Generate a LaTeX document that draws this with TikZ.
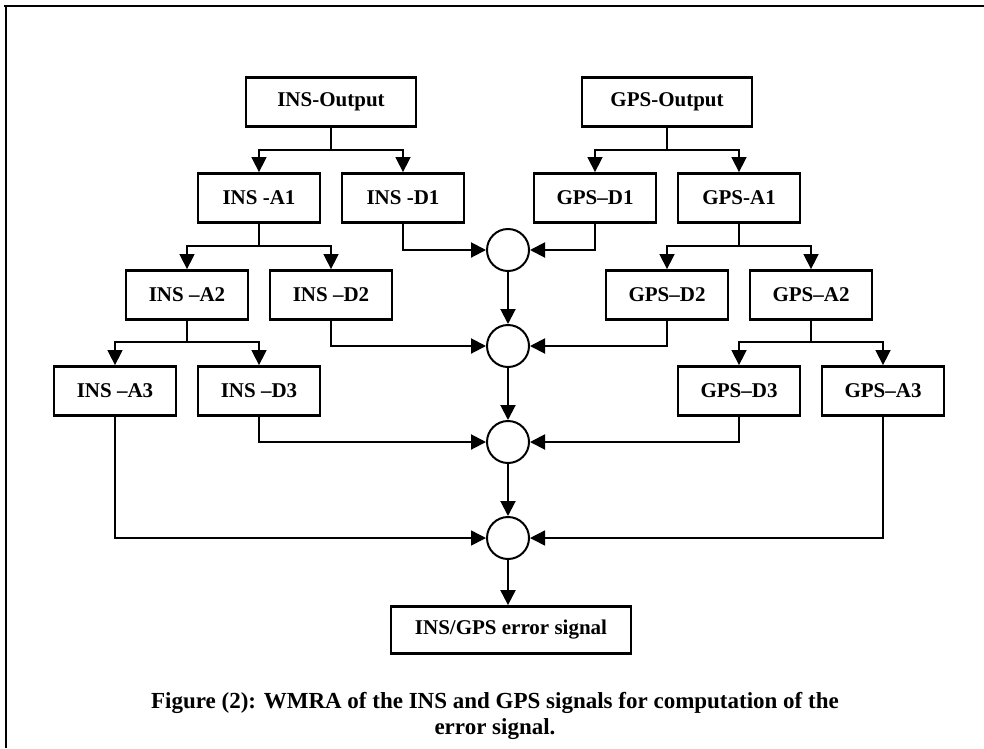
\documentclass[tikz,border=0pt]{standalone}
\usepackage{fontspec}
\setmainfont{Liberation Serif}
\usetikzlibrary{arrows.meta}
\begin{document}
\begin{tikzpicture}[x=1pt,y=-1pt,
  box/.style={draw,line width=2.8pt,minimum width=122pt,minimum height=49pt,inner sep=0pt,
    font=\fontsize{21}{24}\selectfont\bfseries},
  sumc/.style={draw,circle,line width=2pt,minimum size=42pt,inner sep=0pt},
  br/.style={line width=1.5pt,-{Triangle[length=15pt,width=15pt]}},
  ar/.style={line width=2pt,-{Triangle[length=15pt,width=15pt]}},
  pl/.style={line width=1.5pt}]
\useasboundingbox (0,0) rectangle (984,748);
% frame
\draw[line width=2.5pt] (4,6) -- (984,6);
\draw[line width=2.5pt] (6,6) -- (6,748);
% output boxes
\node[box,minimum width=170pt] (io) at (331,102) {INS-Output};
\node[box,minimum width=170pt] (go) at (667,102) {GPS-Output};
% level 1
\node[box] (ia1) at (259,198) {INS -A1};
\node[box] (id1) at (403,198) {INS -D1};
\node[box] (gd1) at (595,198) {GPS–D1};
\node[box] (ga1) at (739,198) {GPS-A1};
% level 2
\node[box] (ia2) at (187,295) {INS –A2};
\node[box] (id2) at (331,295) {INS –D2};
\node[box] (gd2) at (667,295) {GPS–D2};
\node[box] (ga2) at (811,295) {GPS–A2};
% level 3
\node[box] (ia3) at (115,391) {INS –A3};
\node[box] (id3) at (259,391) {INS –D3};
\node[box] (gd3) at (739,391) {GPS–D3};
\node[box] (ga3) at (883,391) {GPS–A3};
% summing circles
\node[sumc] (c1) at (508,250) {};
\node[sumc] (c2) at (508,346) {};
\node[sumc] (c3) at (508,442) {};
\node[sumc] (c4) at (508,538) {};
% result
\node[box,minimum width=240pt,minimum height=47pt] (err) at (511,630) {INS/GPS error signal};
% branches
\coordinate (j0) at (331,150);
\coordinate (j0g) at (667,150);
\coordinate (j1) at (259,246);
\coordinate (j1g) at (739,246);
\coordinate (j2) at (187,342);
\coordinate (j2g) at (811,342);
\draw[pl] (io.south) -- (j0);
\draw[br] (j0) -| (ia1);
\draw[br] (j0) -| (id1);
\draw[pl] (go.south) -- (j0g);
\draw[br] (j0g) -| (gd1);
\draw[br] (j0g) -| (ga1);
\draw[pl] (ia1.south) -- (j1);
\draw[br] (j1) -| (ia2);
\draw[br] (j1) -| (id2);
\draw[pl] (ga1.south) -- (j1g);
\draw[br] (j1g) -| (gd2);
\draw[br] (j1g) -| (ga2);
\draw[pl] (ia2.south) -- (j2);
\draw[br] (j2) -| (ia3);
\draw[br] (j2) -| (id3);
\draw[pl] (ga2.south) -- (j2g);
\draw[br] (j2g) -| (gd3);
\draw[br] (j2g) -| (ga3);
% into circles
\draw[ar] (id1.south) |- (c1);
\draw[ar] (gd1.south) |- (c1);
\draw[ar] (id2.south) |- (c2);
\draw[ar] (gd2.south) |- (c2);
\draw[ar] (id3.south) |- (c3);
\draw[ar] (gd3.south) |- (c3);
\draw[ar,line width=1.5pt] (ia3.south) |- (c4);
\draw[ar,line width=1.5pt] (ga3.south) |- (c4);
\draw[ar] (c1) -- (c2);
\draw[ar] (c2) -- (c3);
\draw[ar] (c3) -- (c4);
\draw[ar] (c4) -- (c4 |- err.north);
% caption
\node[align=center,font=\fontsize{23}{26}\selectfont\bfseries] (cap) at (495,716)
  {Figure (2): WMRA of the INS and GPS signals for computation of the\\ error signal.};
\end{tikzpicture}
\end{document}
